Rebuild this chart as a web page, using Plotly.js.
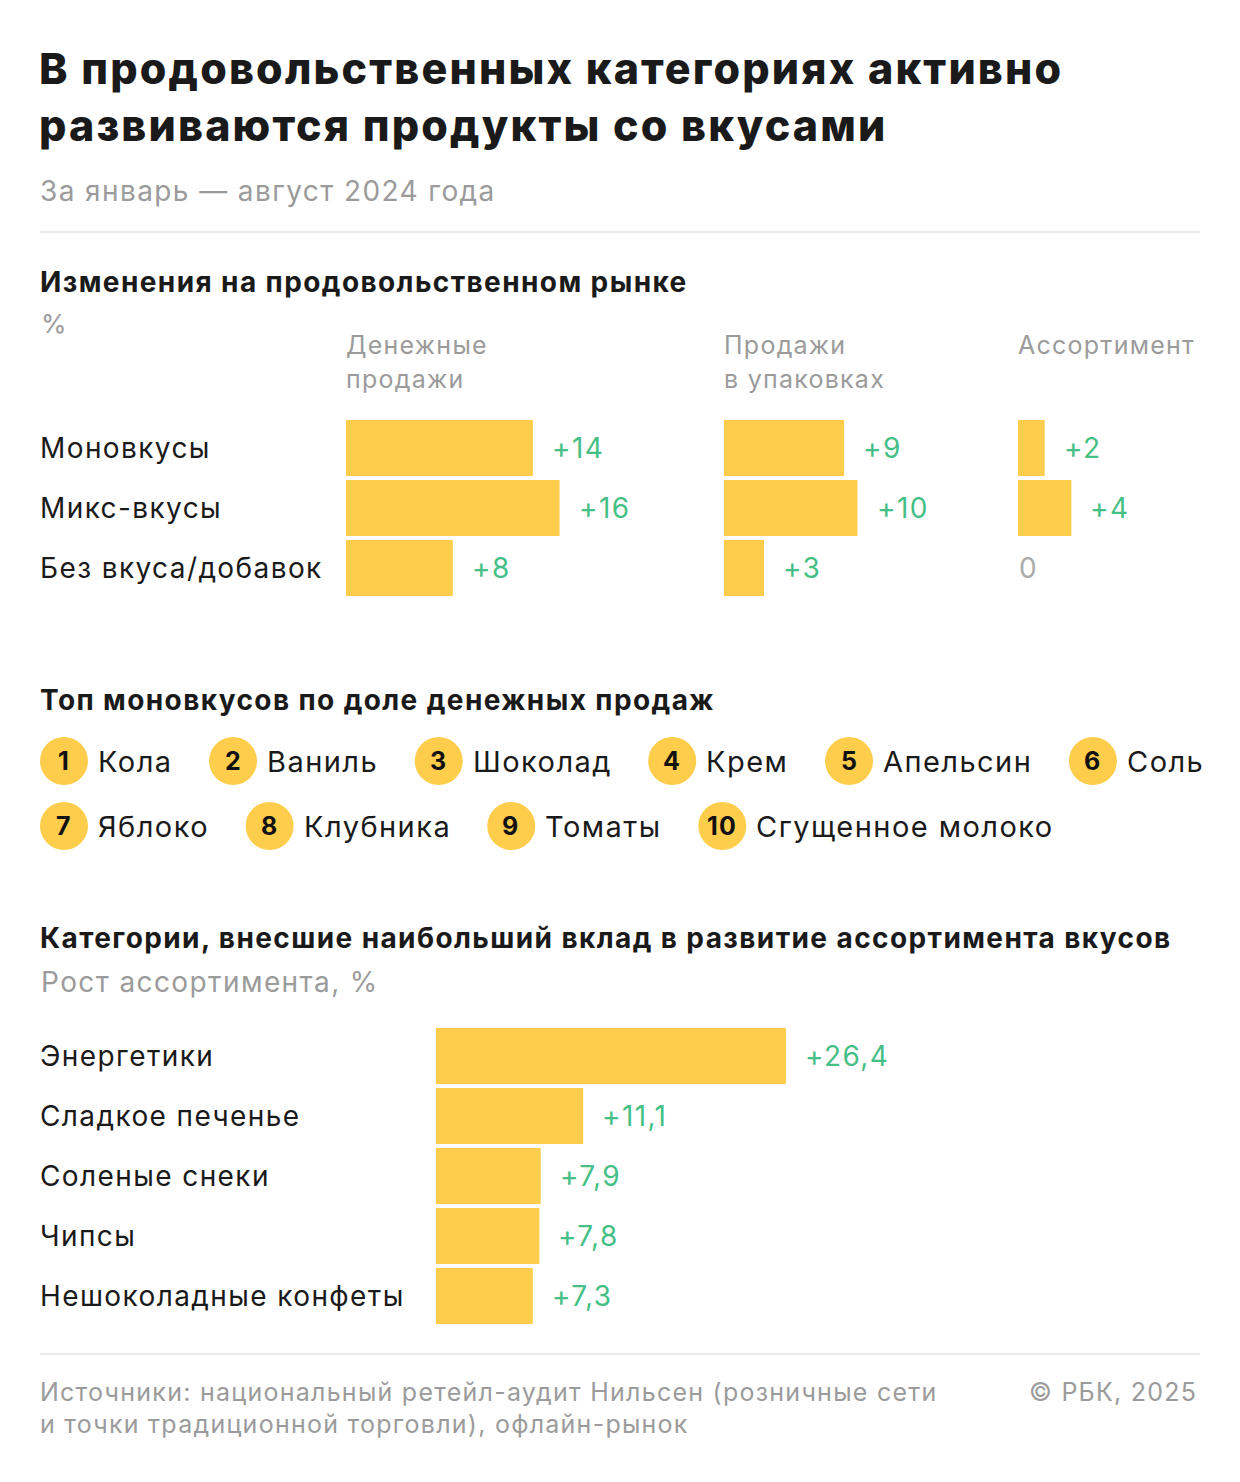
<!DOCTYPE html>
<html><head><meta charset="utf-8">
<script src="https://cdn.plot.ly/plotly-3.0.1.min.js"></script>
<style>html,body{margin:0;padding:0;background:#fff}
text.annotation-text{letter-spacing:0.05em}</style>
</head><body><div id="chart" style="width:1240px;height:1482px"></div>
<script>
// ---------- DATA ----------
const titleLines = ["В продовольственных категориях активно", "развиваются продукты со вкусами"];
const subtitle = "За январь — август 2024 года";
const section1Title = "Изменения на продовольственном рынке";
const section1Unit = "%";
const marketCategories = ["Моновкусы", "Микс-вкусы", "Без вкуса/добавок"];
const metricHeaders = [["Денежные", "продажи"], ["Продажи", "в упаковках"], ["Ассортимент"]];
const moneySales = [14, 16, 8];
const packSales = [9, 10, 3];
const assortmentChange = [2, 4, 0];
const section2Title = "Топ моновкусов по доле денежных продаж";
const flavorRanks = [1, 2, 3, 4, 5, 6, 7, 8, 9, 10];
const flavorNames = ["Кола", "Ваниль", "Шоколад", "Крем", "Апельсин", "Соль", "Яблоко", "Клубника", "Томаты", "Сгущенное молоко"];
const section3Title = "Категории, внесшие наибольший вклад в развитие ассортимента вкусов";
const section3Unit = "Рост ассортимента, %";
const assortCategories = ["Энергетики", "Сладкое печенье", "Соленые снеки", "Чипсы", "Нешоколадные конфеты"];
const assortGrowth = [26.4, 11.1, 7.9, 7.8, 7.3];
const sourceLines = ["Источники: национальный ретейл-аудит Нильсен (розничные сети", "и точки традиционной торговли), офлайн-рынок"];
const copyright = "© РБК, 2025";

// ---------- STYLE ----------
const W = 1240, H = 1482;
const FONT = "Inter";
const LS = 0.05; // letter spacing in em (matches CSS)
const YELLOW = "#FECD4C", GREEN = "#45BF86", DARK = "#1a1a1a", GRAY = "#9b9b9b", LINE = "#e2e2e2";
const fx = p => p / W;
const fy = p => 1 - p / H;
const fmt = v => v === 0 ? "0" : "+" + String(v).replace(".", ",");

const measureCtx = document.createElement("canvas").getContext("2d");
function textWidth(s, size, weight) {
  measureCtx.font = `${weight || 400} ${size}px ${FONT}`;
  return measureCtx.measureText(s).width + LS * size * (s.length - 1);
}

const traces = [];
const annotations = [];
const shapes = [];
const layout = {
  width: W, height: H, margin: {l: 0, r: 0, t: 0, b: 0},
  paper_bgcolor: "#fff", plot_bgcolor: "rgba(0,0,0,0)",
  showlegend: false, hovermode: false, barmode: "overlay",
  font: {family: FONT}
};

function txt(text, x, y, size, color, opts) {
  opts = opts || {};
  annotations.push(Object.assign({
    text: text, x: x, y: y, xref: "paper", yref: "paper",
    xanchor: "left", yanchor: "middle", showarrow: false,
    font: {family: FONT, size: size, color: color, weight: opts.weight || 400}
  }, opts.extra || {}));
}

// ---------- HEADER ----------
txt(titleLines[0], fx(37), fy(68), 43, DARK, {weight: 800});
txt(titleLines[1], fx(37), fy(125), 43, DARK, {weight: 800});
txt(subtitle, fx(38), fy(191), 28, GRAY);
shapes.push({type: "line", xref: "paper", yref: "paper", x0: fx(40), x1: fx(1200), y0: fy(232), y1: fy(232), line: {color: LINE, width: 1.5}});

// ---------- SECTION 1 ----------
txt(section1Title, fx(38), fy(282), 28, DARK, {weight: 700});
txt(section1Unit, fx(39), fy(323), 26, GRAY);

const PXU = 13.35;
const panels = [
  {ax: "", left: 346, right: 700, values: moneySales},
  {ax: "2", left: 724, right: 1000, values: packSales},
  {ax: "3", left: 1018, right: 1200, values: assortmentChange}
];
const slot = 60, barH = 56;
panels.forEach((p, i) => {
  const xa = "xaxis" + p.ax, ya = "yaxis" + p.ax;
  layout[xa] = {domain: [fx(p.left), fx(p.right)], range: [0, (p.right - p.left) / PXU], visible: false, fixedrange: true, anchor: "y" + p.ax};
  layout[ya] = {domain: [fy(418 + slot * 3), fy(418)], type: "category", categoryorder: "array", categoryarray: marketCategories,
                range: [marketCategories.length - 0.5, -0.5], visible: false, fixedrange: true, anchor: "x" + p.ax};
  traces.push({type: "bar", orientation: "h", x: p.values, y: marketCategories, xaxis: "x" + p.ax, yaxis: "y" + p.ax,
               width: barH / slot, marker: {color: YELLOW}, hoverinfo: "skip"});
  p.values.forEach((v, j) => {
    annotations.push({text: fmt(v), x: v, y: marketCategories[j], xref: "x" + p.ax, yref: "y" + p.ax,
      xanchor: "left", yanchor: "middle", xshift: v === 0 ? -1 : 17, showarrow: false,
      font: {family: FONT, size: 28, color: v === 0 ? "#aaaaaa" : GREEN}});
  });
  metricHeaders[i].forEach((line, k) => txt(line, fx(p.left - 2), fy(345 + 34 * k), 25, GRAY));
});
marketCategories.forEach(c => {
  annotations.push({text: c, x: fx(38), y: c, xref: "paper", yref: "y", xanchor: "left", yanchor: "middle", showarrow: false,
    font: {family: FONT, size: 28, color: DARK}});
});

// ---------- SECTION 2 ----------
txt(section2Title, fx(38), fy(700), 28, DARK, {weight: 700});
layout.xaxis5 = {domain: [0, 1], range: [0, W], visible: false, fixedrange: true, anchor: "y5"};
layout.yaxis5 = {domain: [0, 1], range: [H, 0], visible: false, fixedrange: true, anchor: "x5"};
const NAME_SIZE = 29, DIAM = 48, rowY0 = 761, rowStep = 65;
const cx = [], cy = [];
let curX = 40, curY = rowY0;
flavorNames.forEach((name, i) => {
  const w = textWidth(name, NAME_SIZE, 400);
  if (curX + DIAM + 10 + w > 1225) { curX = 40; curY += rowStep; }
  cx.push(curX + DIAM / 2); cy.push(curY);
  annotations.push({text: name, x: curX + DIAM + 8, y: curY, xref: "x5", yref: "y5", xanchor: "left", yanchor: "middle",
    showarrow: false, font: {family: FONT, size: NAME_SIZE, color: DARK}});
  annotations.push({text: String(flavorRanks[i]), x: curX + DIAM / 2, y: curY, xref: "x5", yref: "y5", xanchor: "center", yanchor: "middle",
    showarrow: false, font: {family: FONT, size: 25, color: "#111", weight: 700}});
  curX += DIAM + 10 + w + 38;
});
traces.push({type: "scatter", mode: "markers", x: cx, y: cy, xaxis: "x5", yaxis: "y5",
  marker: {size: DIAM, color: YELLOW, line: {width: 0}}, hoverinfo: "skip", cliponaxis: false});

// ---------- SECTION 3 ----------
txt(section3Title, fx(38), fy(938), 28, DARK, {weight: 700});
txt(section3Unit, fx(39), fy(982), 28, GRAY);
const PXU4 = 13.26, left4 = 436, right4 = 1200, top4 = 1026;
layout.xaxis4 = {domain: [fx(left4), fx(right4)], range: [0, (right4 - left4) / PXU4], visible: false, fixedrange: true, anchor: "y4"};
layout.yaxis4 = {domain: [fy(top4 + slot * assortCategories.length), fy(top4)], type: "category", categoryorder: "array",
  categoryarray: assortCategories, range: [assortCategories.length - 0.5, -0.5], visible: false, fixedrange: true, anchor: "x4"};
traces.push({type: "bar", orientation: "h", x: assortGrowth, y: assortCategories, xaxis: "x4", yaxis: "y4",
  width: barH / slot, marker: {color: YELLOW}, hoverinfo: "skip"});
assortGrowth.forEach((v, j) => {
  annotations.push({text: fmt(v), x: v, y: assortCategories[j], xref: "x4", yref: "y4", xanchor: "left", yanchor: "middle",
    xshift: 17, showarrow: false, font: {family: FONT, size: 28, color: GREEN}});
  annotations.push({text: assortCategories[j], x: fx(38), y: assortCategories[j], xref: "paper", yref: "y4",
    xanchor: "left", yanchor: "middle", showarrow: false, font: {family: FONT, size: 28, color: DARK}});
});

// ---------- FOOTER ----------
shapes.push({type: "line", xref: "paper", yref: "paper", x0: fx(40), x1: fx(1200), y0: fy(1354), y1: fy(1354), line: {color: LINE, width: 1.5}});
sourceLines.forEach((s, k) => txt(s, fx(38), fy(1392 + 32 * k), 25, GRAY));
txt(copyright, fx(1199), fy(1392), 25, GRAY, {extra: {xanchor: "right"}});

layout.annotations = annotations;
layout.shapes = shapes;
Plotly.newPlot("chart", traces, layout, {displayModeBar: false, staticPlot: true});
</script></body></html>
